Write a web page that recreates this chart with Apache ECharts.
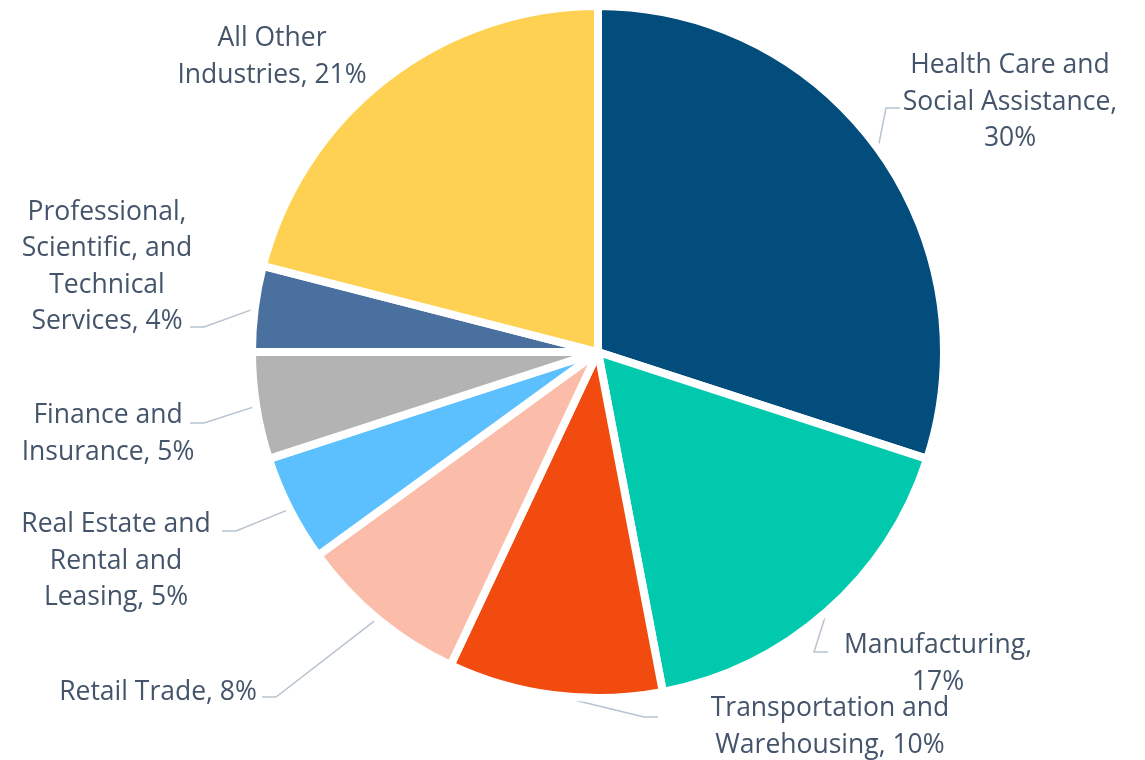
<!DOCTYPE html>
<html>
<head>
<meta charset="utf-8">
<script src="https://cdn.jsdelivr.net/npm/echarts@6/dist/echarts.min.js"></script>
<style>
  html, body { margin: 0; padding: 0; background: #fff; }
  #chart { width: 1145px; height: 760px; }
</style>
</head>
<body>
<div id="chart"></div>
<script>
// industries, clockwise from 12 o'clock
var industries = [
    'Health Care and\nSocial Assistance',
    'Manufacturing',
    'Transportation and\nWarehousing',
    'Retail Trade',
    'Real Estate and\nRental and\nLeasing',
    'Finance and\nInsurance',
    'Professional,\nScientific, and\nTechnical\nServices',
    'All Other\nIndustries'
];
var shares = [30, 17, 10, 8, 5, 5, 4, 21];
var sliceColors = ['#024d7b', '#00c9ae', '#f14b0f', '#fbbdaa', '#5cc0ff', '#b3b3b3', '#4a70a0', '#ffd153'];
// percent goes on its own line for these
var pctOwnLine = [true, true, false, false, false, false, false, false];

// label block centres (px)
var labelPos = [[1010, 102], [938, 664], [830, 727], [158, 692], [116, 561], [108, 434], [107, 267], [272, 57]];
// where each leader line meets its label (px), null = no line
var leaderEnd = [[900, 108], [828, 652], [658, 717], [262, 697], [222, 531], [190, 423], [190, 327], null];
var elbowLen = 14;

var chart = echarts.init(document.getElementById('chart'));

var seriesData = [];
for (var i = 0; i < industries.length; i++) {
    var item = {
        name: industries[i],
        value: shares[i],
        itemStyle: { color: sliceColors[i] }
    };
    if (!leaderEnd[i]) {
        item.labelLine = { show: false };
    }
    seriesData.push(item);
}

var option = {
    animation: false,
    series: [{
        type: 'pie',
        center: [598, 352],
        radius: 346,
        startAngle: 90,
        clockwise: true,
        avoidLabelOverlap: false,
        itemStyle: {
            borderColor: '#ffffff',
            borderWidth: 8
        },
        label: {
            show: true,
            position: 'outside',
            fontFamily: 'Open Sans',
            fontSize: 26.5,
            lineHeight: 36.3,
            color: '#44546a',
            align: 'center',
            formatter: function(p){
                return p.name + ',' + (pctOwnLine[p.dataIndex] ? '\n' : ' ') + p.value + '%';
            }
        },
        labelLine: {
            show: true,
            length: 20,
            length2: elbowLen,
            lineStyle: { color: '#b7c3cf', width: 1.5 }
        },
        labelLayout: function(params){
            var idx = params.dataIndex;
            var pos = labelPos[idx];
            var out = {
                x: pos[0],
                y: pos[1],
                align: 'center',
                verticalAlign: 'middle'
            };
            var end = leaderEnd[idx];
            if (end && params.labelLinePoints) {
                var start = params.labelLinePoints[0];
                var dir = end[0] > start[0] ? -1 : 1;
                out.labelLinePoints = [
                    [start[0], start[1]],
                    [end[0] + dir * elbowLen, end[1]],
                    [end[0], end[1]]
                ];
            }
            return out;
        },
        emphasis: { disabled: true },
        data: seriesData
    }]
};
chart.setOption(option);
</script>
</body>
</html>
